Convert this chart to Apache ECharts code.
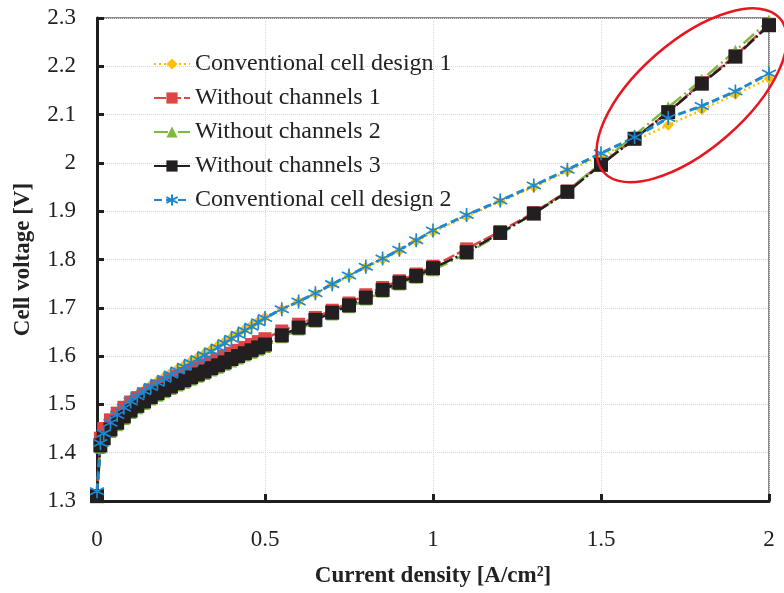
<!DOCTYPE html>
<html>
<head>
<meta charset="utf-8">
<script src="https://cdn.jsdelivr.net/npm/echarts@6/dist/echarts.min.js"></script>
<style>
html,body{margin:0;padding:0;background:#fff;}
#chart{width:784px;height:593px;}
</style>
</head>
<body>
<div id="chart"></div>
<script>
// ---- data ----
var currentDensity = [0,0.01,0.02,0.04,0.06,0.08,0.1,0.12,0.14,0.16,0.18,0.2,0.22,0.24,0.26,0.28,0.3,0.32,0.34,0.36,0.38,0.4,0.42,0.44,0.46,0.48,0.5,0.55,0.6,0.65,0.7,0.75,0.8,0.85,0.9,0.95,1,1.1,1.2,1.3,1.4,1.5,1.6,1.7,1.8,1.9,2];

var conventional1 = [1.31,1.42,1.442,1.465,1.481,1.496,1.509,1.52,1.53,1.54,1.549,1.557,1.566,1.574,1.582,1.59,1.598,1.606,1.614,1.622,1.63,1.639,1.647,1.656,1.664,1.672,1.681,1.697,1.713,1.729,1.748,1.766,1.784,1.8,1.818,1.838,1.857,1.889,1.92,1.95,1.983,2.015,2.046,2.078,2.11,2.142,2.175];

var withoutChannels1 = [1.31,1.43,1.45,1.468,1.482,1.494,1.505,1.514,1.522,1.53,1.538,1.545,1.552,1.558,1.564,1.57,1.576,1.582,1.588,1.594,1.6,1.606,1.612,1.618,1.624,1.63,1.636,1.652,1.666,1.68,1.695,1.71,1.727,1.742,1.756,1.77,1.786,1.822,1.858,1.897,1.942,1.998,2.05,2.106,2.166,2.222,2.287];

var withoutChannels2 = [1.31,1.41,1.425,1.443,1.457,1.47,1.482,1.492,1.501,1.51,1.518,1.525,1.532,1.539,1.545,1.551,1.557,1.563,1.57,1.576,1.582,1.589,1.595,1.601,1.607,1.613,1.619,1.639,1.655,1.671,1.686,1.701,1.717,1.733,1.748,1.762,1.778,1.812,1.853,1.895,1.942,2.0,2.057,2.115,2.172,2.232,2.295];

var withoutChannels3 = [1.31,1.415,1.43,1.448,1.462,1.475,1.487,1.497,1.506,1.515,1.523,1.53,1.537,1.544,1.55,1.556,1.562,1.568,1.575,1.581,1.587,1.594,1.6,1.606,1.612,1.618,1.624,1.643,1.659,1.675,1.69,1.705,1.721,1.737,1.752,1.766,1.782,1.815,1.855,1.895,1.94,1.996,2.05,2.105,2.164,2.22,2.285];

var conventional2 = [1.32,1.42,1.44,1.462,1.478,1.493,1.506,1.517,1.527,1.536,1.545,1.553,1.562,1.57,1.578,1.586,1.594,1.602,1.61,1.618,1.627,1.636,1.644,1.653,1.661,1.67,1.679,1.697,1.713,1.73,1.749,1.767,1.785,1.802,1.82,1.84,1.86,1.892,1.922,1.953,1.986,2.02,2.053,2.093,2.118,2.148,2.185];

var seriesNames = ['Conventional cell design 1','Without channels 1','Without channels 2','Without channels 3','Conventional cell design 2'];
var xTicks = [0, 0.5, 1, 1.5, 2];
var yTicks = [1.3, 1.4, 1.5, 1.6, 1.7, 1.8, 1.9, 2, 2.1, 2.2, 2.3];
var highlightCenter = [1.77, 2.14]; // centre of the red ellipse (data units)

function pairs(ys){ return currentDensity.map(function(x,i){ return [x, ys[i]]; }); }

var serif = '"Liberation Serif","Times New Roman",serif';
var asterisk = 'path://M5,0L5,10M0.7,2.5L9.3,7.5M0.7,7.5L9.3,2.5';

var chart = echarts.init(document.getElementById('chart'), null, {renderer:'canvas'});
var option = {
  animation: false,
  backgroundColor: '#fff',
  grid: {left: 97, right: 15, top: 18, bottom: 88, show: true, borderColor: '#8a8a8a', borderWidth: 2, containLabel: false},
  legend: {
    left: 148, top: 47, orient: 'vertical', itemWidth: 36, itemHeight: 14, itemGap: 10,
    textStyle: {fontFamily: serif, fontSize: 24, color: '#222'},
    data: seriesNames
  },
  xAxis: {
    type: 'value', min: 0, max: 2, interval: 0.5,
    name: 'Current density [A/cm\u00b2]', nameLocation: 'middle', nameGap: 64,
    nameTextStyle: {fontFamily: serif, fontSize: 23, fontWeight: 'bold', color: '#222'},
    axisLine: {show: true, onZero: false, lineStyle: {color: '#1e1e1e', width: 3}},
    axisTick: {show: true, inside: true, length: 7, lineStyle: {color: '#1e1e1e', width: 3}},
    axisLabel: {fontFamily: serif, fontSize: 23, color: '#222', margin: 27,
      formatter: function(v){ return String(Math.round(v*10)/10); }},
    splitLine: {show: true, lineStyle: {color: '#d9d9d9', type: 'dotted', width: 1}}
  },
  yAxis: {
    type: 'value', min: 1.3, max: 2.3, interval: 0.1,
    name: 'Cell voltage [V]', nameLocation: 'middle', nameGap: 62,
    nameTextStyle: {fontFamily: serif, fontSize: 23, fontWeight: 'bold', color: '#222'},
    axisLine: {show: true, onZero: false, lineStyle: {color: '#1e1e1e', width: 3}},
    axisTick: {show: true, inside: true, length: 7, lineStyle: {color: '#1e1e1e', width: 3}},
    axisLabel: {fontFamily: serif, fontSize: 23, color: '#222', margin: 21,
      formatter: function(v){ return String(Math.round(v*10)/10); }},
    splitLine: {show: true, lineStyle: {color: '#d9d9d9', type: 'dotted', width: 1}}
  },
  series: [
    {name: seriesNames[0], type: 'line', data: pairs(conventional1), symbol: 'diamond', symbolSize: 11,
      itemStyle: {color: '#FFC000'}, lineStyle: {color: '#FFC000', width: 2.5, type: [2,3]}},
    {name: seriesNames[1], type: 'line', data: pairs(withoutChannels1), symbol: 'rect', symbolSize: 13,
      itemStyle: {color: '#E04444'}, lineStyle: {color: '#E04444', width: 2.5, type: [12,3]}},
    {name: seriesNames[2], type: 'line', data: pairs(withoutChannels2), symbol: 'triangle', symbolSize: 12,
      itemStyle: {color: '#7DB83F'}, lineStyle: {color: '#7DB83F', width: 2.5, type: [14,4,2,4]}},
    {name: seriesNames[3], type: 'line', data: pairs(withoutChannels3), symbol: 'rect', symbolSize: 14,
      itemStyle: {color: '#231F20'}, lineStyle: {color: '#231F20', width: 2.5, type: [14,3,2,3]}},
    {name: seriesNames[4], type: 'line', data: pairs(conventional2), symbol: asterisk, symbolSize: 14,
      itemStyle: {color: 'rgba(0,0,0,0)', borderColor: '#1E88CF', borderWidth: 1.7},
      lineStyle: {color: '#1E88CF', width: 3, type: [8,4]}}
  ]
};
chart.setOption(option);

var c = chart.convertToPixel({gridIndex: 0}, highlightCenter);
chart.setOption({
  graphic: [{
    type: 'ellipse', x: c[0], y: c[1], rotation: 41 * Math.PI / 180, z: 100,
    shape: {cx: 0, cy: 0, rx: 117, ry: 54},
    style: {fill: 'none', stroke: '#E8161E', lineWidth: 2.5}
  }]
});
</script>
</body>
</html>
